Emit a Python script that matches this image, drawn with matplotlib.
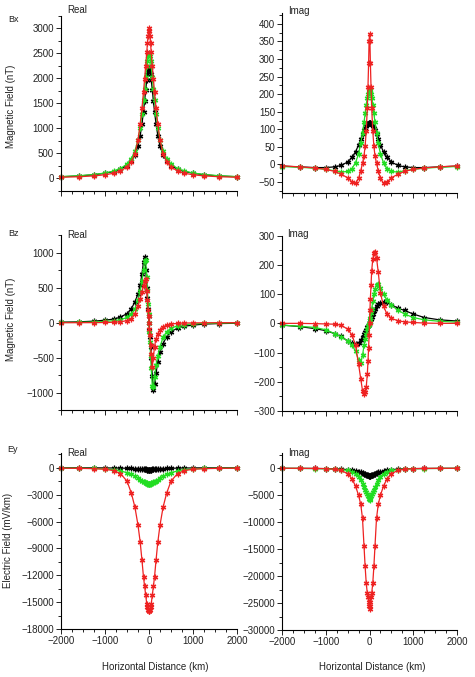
import numpy as np
import matplotlib
matplotlib.use('Agg')
import matplotlib.pyplot as plt
from matplotlib.ticker import MultipleLocator

plt.rcParams['font.family'] = ['Liberation Sans', 'DejaVu Sans']

# horizontal distance (km)
dist = [-2000, -1600, -1250, -1000, -800, -650, -500, -400, -320, -250, -200, -160, -125, -100, -75, -50, -35, -20, -10,
        0, 10, 20, 35, 50, 75, 100, 125, 160, 200, 250, 320, 400, 500, 650, 800, 1000, 1250, 1600, 2000]

# Bx real (nT)
bx_re_black = [25, 40, 65, 95, 130, 175, 250, 340, 460, 640, 850, 1080, 1330, 1540, 1760, 1970, 2080, 2160, 2190,
               2200, 2190, 2160, 2080, 1970, 1760, 1540, 1330, 1080, 850, 640, 460, 340, 250, 175, 130, 95, 65, 40, 25]
bx_re_green = [28, 45, 70, 100, 140, 190, 280, 390, 540, 760, 1010, 1280, 1560, 1780, 2020, 2240, 2350, 2440, 2480,
               2500, 2480, 2440, 2350, 2240, 2020, 1780, 1560, 1280, 1010, 760, 540, 390, 280, 190, 140, 100, 70, 45, 28]
bx_re_red = [15, 25, 42, 65, 95, 140, 220, 330, 490, 760, 1080, 1400, 1720, 1980, 2250, 2520, 2700, 2850, 2950,
             3000, 2950, 2850, 2700, 2520, 2250, 1980, 1720, 1400, 1080, 760, 490, 330, 220, 140, 95, 65, 42, 25, 15]

# Bx imaginary (nT)
bx_im_black = [-5, -7, -9, -9, -7, -3, 7, 20, 36, 55, 72, 86, 97, 104, 110, 114, 116, 117, 118,
               118, 118, 117, 116, 114, 110, 104, 97, 86, 72, 55, 36, 20, 7, -3, -7, -9, -9, -7, -5]
bx_im_green = [-6, -8, -11, -14, -18, -22, -20, -12, 5, 30, 60, 90, 120, 145, 170, 190, 200, 207, 210,
               212, 210, 207, 200, 190, 170, 145, 120, 90, 60, 30, 5, -12, -20, -22, -18, -14, -11, -8, -6]
bx_im_red = [-4, -7, -10, -14, -20, -28, -38, -50, -54, -40, -18, 3, 25, 52, 95, 160, 220, 290, 350,
             370, 350, 290, 220, 160, 95, 52, 25, 3, -18, -40, -54, -50, -38, -28, -20, -14, -10, -7, -4]

# Bz real (nT)
bz_re_black = [8, 12, 22, 36, 52, 80, 130, 200, 300, 410, 540, 700, 870, 940, 760, 500, 350, 200, 100,
               0, -100, -200, -350, -500, -760, -960, -880, -720, -560, -420, -300, -200, -130, -75, -50, -35, -20, -12, -8]
bz_re_green = [3, 5, 10, 18, 28, 42, 75, 125, 200, 330, 460, 600, 760, 880, 900, 650, 470, 270, 130,
               0, -130, -270, -470, -650, -900, -920, -770, -610, -470, -340, -210, -130, -78, -44, -28, -18, -10, -5, -3]
bz_re_red = [0, 0, 1, 3, 6, 12, 30, 60, 130, 240, 340, 440, 530, 590, 620, 450, 320, 180, 90,
             0, -90, -180, -320, -450, -630, -500, -340, -230, -160, -100, -60, -35, -18, -10, -5, -3, -1, 0, 0]

# Bz imaginary (nT)
bz_im_black = [-6, -11, -18, -25, -35, -45, -60, -68, -72, -68, -58, -48, -38, -30, -22, -14, -9, -4, -1,
               3, 6, 10, 16, 22, 32, 42, 50, 58, 65, 70, 73, 72, 64, 52, 44, 32, 20, 12, 8]
bz_im_green = [-6, -10, -14, -22, -35, -46, -60, -75, -95, -125, -135, -110, -75, -55, -35, -18, -10, -5, -2,
               5, 12, 20, 35, 50, 75, 100, 118, 132, 135, 120, 100, 80, 62, 45, 32, 20, 12, 7, 4]
bz_im_red = [0, 0, -1, -2, -3, -6, -20, -40, -75, -140, -190, -230, -243, -235, -218, -175, -130, -85, -40,
             0, 45, 85, 130, 180, 220, 240, 245, 225, 175, 105, 58, 32, 17, 9, 5, 3, 1, 0, 0]

# Ey real (mV/km)
ey_re_black = [-10, -14, -20, -28, -38, -50, -70, -90, -110, -130, -150, -165, -180, -190, -200, -210, -215, -218, -220,
               -220, -220, -218, -215, -210, -200, -190, -180, -165, -150, -130, -110, -90, -70, -50, -38, -28, -20, -14, -10]
ey_re_green = [-45, -60, -90, -140, -230, -360, -560, -760, -950, -1160, -1330, -1460, -1570, -1640, -1700, -1750, -1770, -1790, -1795,
               -1800, -1795, -1790, -1770, -1750, -1700, -1640, -1570, -1460, -1330, -1160, -950, -760, -560, -360, -230, -140, -90, -60, -45]
ey_re_red = [-60, -75, -110, -180, -330, -650, -1500, -2850, -4400, -6400, -8300, -10300, -12200, -13200, -14200, -15200, -15500, -15800, -15950,
             -16000, -15950, -15800, -15500, -15200, -14200, -13200, -12200, -10300, -8300, -6400, -4400, -2850, -1500, -650, -330, -180, -110, -75, -60]

# Ey imaginary (mV/km)
ey_im_black = [-10, -20, -35, -60, -95, -150, -250, -370, -500, -650, -780, -900, -1000, -1080, -1160, -1240, -1290, -1340, -1370,
               -1400, -1370, -1340, -1290, -1240, -1160, -1080, -1000, -900, -780, -650, -500, -370, -250, -150, -95, -60, -35, -20, -10]
ey_im_green = [-10, -25, -50, -90, -150, -240, -400, -650, -1000, -1550, -2200, -2950, -3500, -3950, -4350, -4750, -5050, -5400, -5650,
               -5900, -5650, -5400, -5050, -4750, -4350, -3950, -3500, -2950, -2200, -1550, -1000, -650, -400, -240, -150, -90, -50, -25, -10]
ey_im_red = [0, -5, -20, -60, -170, -400, -1000, -1950, -3300, -5000, -6700, -9300, -14500, -18200, -21300, -23200, -23900, -24800, -25500,
             -26100, -25500, -24800, -23900, -23200, -21300, -18200, -14500, -9300, -6700, -5000, -3300, -1950, -1000, -400, -170, -60, -20, -5, 0]

W, H = 475, 677
fig = plt.figure(figsize=(W / 100, H / 100), dpi=100)


def make_ax(x0, x1, y0, y1):
    return fig.add_axes([x0 / W, 1 - y1 / H, (x1 - x0) / W, (y1 - y0) / H])


panels = [
    # (box px, ylim, major, minor, series, xlabels)
    ((61, 237, 15.5, 190.5), (-250, 3250), 500, 250, (bx_re_black, bx_re_green, bx_re_red), False),
    ((282, 457, 13.4, 192.5), (-80, 430), 50, 25, (bx_im_black, bx_im_green, bx_im_red), False),
    ((61, 237, 235.2, 410.2), (-1250, 1250), 500, 250, (bz_re_black, bz_re_green, bz_re_red), False),
    ((282, 457, 235.7, 411), (-300, 300), 100, 50, (bz_im_black, bz_im_green, bz_im_red), False),
    ((61, 237, 453.3, 629.3), (-18000, 1600), 3000, 1500, (ey_re_black, ey_re_green, ey_re_red), True),
    ((282, 457, 453.2, 630), (-30000, 2800), 5000, 2500, (ey_im_black, ey_im_green, ey_im_red), True),
]

colors = ['black', '#22dd22', '#ee2222']

for box, ylim, major, minor, series, xlab in panels:
    ax = make_ax(*box)
    for vals, c in zip(series, colors):
        ax.plot(dist, vals, color=c, linewidth=0.9, marker=(6, 2, 0), markersize=4,
                markeredgewidth=0.9, clip_on=False)
    ax.set_xlim(-2000, 2000)
    ax.set_ylim(ylim)
    ax.spines['right'].set_visible(False)
    ax.spines['top'].set_visible(False)
    ax.spines['left'].set_linewidth(0.8)
    ax.spines['bottom'].set_linewidth(0.8)
    ax.xaxis.set_major_locator(MultipleLocator(1000))
    ax.xaxis.set_minor_locator(MultipleLocator(250))
    ax.yaxis.set_major_locator(MultipleLocator(major))
    ax.yaxis.set_minor_locator(MultipleLocator(minor))
    ax.tick_params(which='major', direction='out', length=3.5, width=0.7, labelsize=7,
                   pad=1.5, colors='#222222')
    ax.tick_params(which='minor', direction='out', length=2, width=0.6)
    if not xlab:
        ax.tick_params(axis='x', labelbottom=False)
    ax.patch.set_alpha(0)


def label(x, y, s, **kw):
    fig.text(x / W, 1 - y / H, s, va='center', color='#222222', **kw)


label(8, 20, 'Bx', fontsize=6.5)
label(67, 10, 'Real', fontsize=7)
label(288, 11, 'Imag', fontsize=7)
label(8, 234, 'Bz', fontsize=6.5)
label(67, 235, 'Real', fontsize=7)
label(287, 234, 'Imag', fontsize=7)
label(7, 450, 'Ey', fontsize=6.5)
label(67, 453, 'Real', fontsize=7)
label(288, 453, 'Imag', fontsize=7)
label(11, 106, 'Magnetic Field (nT)', fontsize=7, rotation=90, ha='center')
label(11, 319, 'Magnetic Field (nT)', fontsize=7, rotation=90, ha='center')
label(8, 540, 'Electric Field (mV/km)', fontsize=7, rotation=90, ha='center')
label(155, 667, 'Horizontal Distance (km)', fontsize=7, ha='center')
label(372, 667, 'Horizontal Distance (km)', fontsize=7, ha='center')

fig.savefig('out.png', dpi=100)
